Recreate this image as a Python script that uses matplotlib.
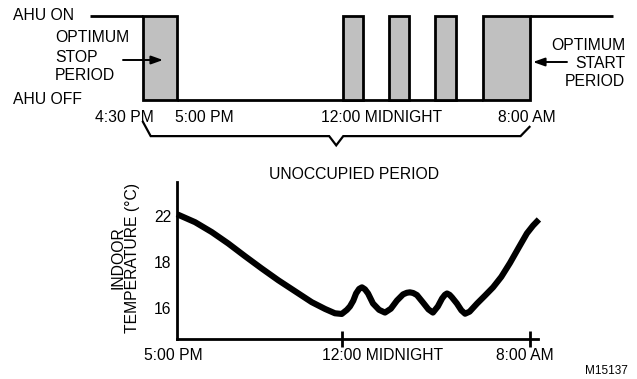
import numpy as np
import matplotlib
matplotlib.use("Agg")
import matplotlib.pyplot as plt

plt.rcParams['font.family'] = ['Liberation Sans', 'DejaVu Sans']

# ---------------- data ----------------
# AHU schedule (schematic hours after 5:00 PM)
on_line_left = (-3.70, -1.45)
on_line_right = (15.0, 18.55)
period_starts = [-1.45, 7.06, 9.02, 10.98, 13.02]
period_ends = [0.0, 7.91, 9.87, 11.87, 15.0]
top_time_labels = ["4:30 PM", "5:00 PM", "12:00 MIDNIGHT", "8:00 AM"]

# Indoor temperature curve (hours after 5:00 PM, deg C)
curve_hours = [0.0, 0.77, 1.48, 2.18, 2.89, 3.60, 4.31, 5.02, 5.73, 6.30,
               6.72, 7.01, 7.23, 7.36, 7.50, 7.62, 7.75, 7.87, 8.00, 8.13,
               8.34, 8.60, 8.85, 9.10, 9.36, 9.62, 9.78, 9.91, 10.05, 10.21,
               10.47, 10.70, 10.89, 11.10, 11.28, 11.40, 11.49, 11.60, 11.70,
               11.91, 12.10, 12.26, 12.45, 12.77, 13.10, 13.45, 13.80, 14.17,
               14.55, 14.89, 15.15, 15.40]
curve_temp = [22.20, 21.50, 20.63, 19.63, 18.52, 17.72, 17.20, 16.72, 16.24,
              15.94, 15.75, 15.72, 15.90, 16.05, 16.30, 16.62, 16.82, 16.89,
              16.80, 16.62, 16.18, 15.90, 15.78, 15.95, 16.31, 16.58, 16.65,
              16.67, 16.64, 16.55, 16.22, 15.92, 15.78, 16.05, 16.40, 16.56,
              16.62, 16.56, 16.45, 16.18, 15.88, 15.73, 15.82, 16.18, 16.52,
              16.89, 17.35, 17.96, 19.30, 20.52, 21.20, 21.74]
temp_ticks = [16, 18, 22]
bottom_tick_hours = [7, 15]
bottom_time_labels = ["5:00 PM", "12:00 MIDNIGHT", "8:00 AM"]

# ---------------- layout ----------------
W, H = 637, 379
fig = plt.figure(figsize=(W / 100, H / 100), dpi=100)
FS = 11.3
GRAY = '#c0c0c0'


def P(x, y):
    return (x / W, 1 - y / H)


def ftext(x, y, s, **kw):
    kw.setdefault('fontsize', FS)
    kw.setdefault('va', 'center')
    fig.text(*P(x, y), s, transform=fig.transFigure, **kw)


# Top schematic axes covering the whole figure
x0, pxh = 177, 23.5
ax1 = fig.add_axes([0, 0, 1, 1])
ax1.set_xlim(-x0 / pxh, (W - x0) / pxh)
ax1.set_ylim(-(H - 100) / 84, 1 + 16 / 84)
ax1.axis('off')

LW = 2.0
ax1.plot(on_line_left, [1, 1], color='black', lw=LW, solid_capstyle='butt')
ax1.plot(on_line_right, [1, 1], color='black', lw=LW, solid_capstyle='butt')
ax1.plot([period_ends[0], period_starts[-1]], [0, 0], color='black', lw=LW,
         solid_capstyle='butt')
for s, e in zip(period_starts, period_ends):
    ax1.bar(s, 1, width=e - s, bottom=0, align='edge', color=GRAY,
            edgecolor='black', linewidth=LW, zorder=3)

# brace for unoccupied period
b0, b1 = period_starts[0], period_ends[-1]
mid = (b0 + b1) / 2
ax1.plot([b0, b0 + 0.33, mid - 0.3, mid, mid + 0.3, b1 - 0.38, b1],
         [-0.26, -0.43, -0.43, -0.54, -0.43, -0.43, -0.32],
         color='black', lw=1.6, solid_joinstyle='miter')

# top texts
ftext(13, 16, "AHU ON")
ftext(13, 99, "AHU OFF")
for yy, s in zip([38, 57, 76], ["OPTIMUM", "STOP", "PERIOD"]):
    ftext(55, yy, s)
for yy, s in zip([45, 63, 81], ["OPTIMUM", "START", "PERIOD"]):
    ftext(625, yy, s, ha='right')
for xx, s in zip([124, 204, 382, 527], top_time_labels):
    ftext(xx, 118, s, ha='center')
ftext(354, 175, "UNOCCUPIED PERIOD", ha='center')
ftext(606, 371, "M15137", ha='center', fontsize=8.5)

arrowprops = dict(arrowstyle='-|>,head_length=0.7,head_width=0.25',
                  color='black', lw=1.4, shrinkA=0, shrinkB=0)
ax1.annotate('', xy=P(163, 60), xytext=P(123, 60), xycoords='figure fraction',
             textcoords='figure fraction', arrowprops=arrowprops)
ax1.annotate('', xy=P(533, 62), xytext=P(567, 62), xycoords='figure fraction',
             textcoords='figure fraction', arrowprops=arrowprops)

# Bottom temperature axes
L, R, T, B = 177, 538, 182, 339
ax2 = fig.add_axes([L / W, 1 - B / H, (R - L) / W, (B - T) / H])
ax2.patch.set_visible(False)


def fwd(t):
    t = np.asarray(t, float)
    return np.where(t < 18, (t - 16) / 2, 1 + (t - 18) / 4)


def inv(u):
    u = np.asarray(u, float)
    return np.where(u < 1, 16 + 2 * u, 18 + 4 * (u - 1))


ax2.set_yscale('function', functions=(fwd, inv))
ax2.plot(curve_hours, curve_temp, color='black', lw=4.4, clip_on=False,
         solid_joinstyle='round', solid_capstyle='butt')
ax2.set_xlim(0, (R - L) / pxh)
ax2.set_ylim(14.62, 25.03)
ax2.set_yticks(temp_ticks)
ax2.set_yticklabels([str(t) for t in temp_ticks], fontsize=FS)
ax2.yaxis.set_minor_locator(matplotlib.ticker.NullLocator())
ax2.tick_params(axis='y', length=0, pad=4)
ax2.set_xticks(bottom_tick_hours)
ax2.set_xticklabels([])
ax2.tick_params(axis='x', direction='inout', length=11, width=2.0)
for sp in ['top', 'right']:
    ax2.spines[sp].set_visible(False)
for sp in ['left', 'bottom']:
    ax2.spines[sp].set_linewidth(2.0)

for xx, s in zip([173, 383, 525], bottom_time_labels):
    ftext(xx, 355, s, ha='center')
fig.text(*P(125, 258), "INDOOR\nTEMPERATURE (\u00b0C)", rotation=90,
         ha='center', va='center', multialignment='center', fontsize=FS,
         linespacing=1.0)

fig.savefig('out.png', dpi=100)
